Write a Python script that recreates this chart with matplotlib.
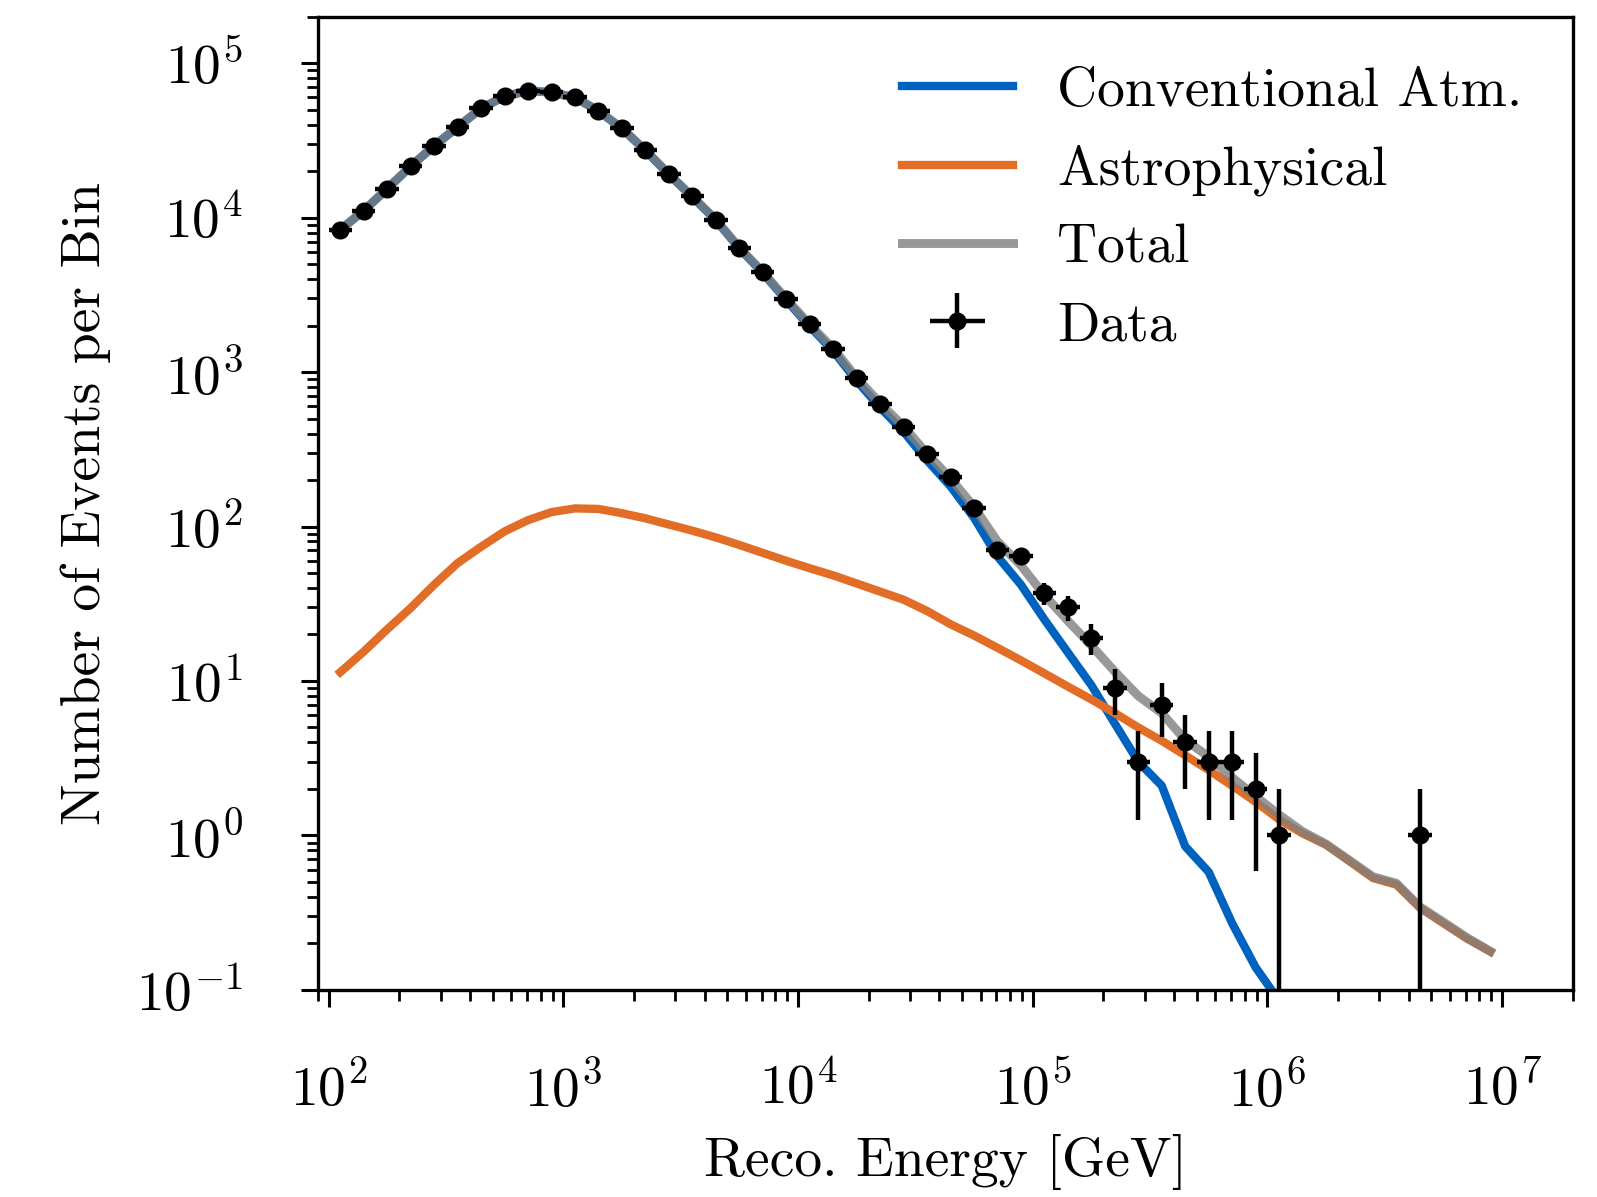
import numpy as np
import matplotlib
matplotlib.use("Agg")
from matplotlib import pyplot as plt
from matplotlib.ticker import LogLocator, FuncFormatter, NullFormatter

plt.rcParams['font.family'] = 'cmr10'
plt.rcParams['mathtext.fontset'] = 'cm'
plt.rcParams['axes.unicode_minus'] = False
plt.rcParams['font.size'] = 20

# 10 bins per decade from 1e2 to 1e7 GeV
bin_edges = np.logspace(2, 7, 51)
bin_centers = np.sqrt(bin_edges[:-1] * bin_edges[1:])

# observed counts per bin (0 = empty bin)
data_counts = [8300, 11100, 15400, 21600, 29100, 38500, 51000, 61200, 66400, 64700,
               60000, 49000, 37800, 27300, 19100, 13700, 9660, 6400, 4450, 2990,
               2040, 1420, 920, 625, 444, 295, 210, 132, 71, 64,
               37, 30, 19, 9, 3, 7, 4, 3, 3, 2,
               1, 0, 0, 0, 0, 0, 1, 0, 0, 0]

# conventional atmospheric expectation (drops below the axis after ~1e6 GeV)
conv_atm = [8340, 11085, 15380, 21470, 29160, 38540, 50930, 60910, 66190, 64680,
            59670, 49070, 37680, 27190, 19000, 13610, 9615, 6324, 4382, 2920,
            1976, 1372, 877, 590, 411, 268, 182, 114, 64, 42,
            25, 15.3, 9.4, 5.3, 3.0, 2.1, 0.85, 0.58, 0.27, 0.14,
            0.085]

# astrophysical expectation
astro = [11.4, 15.5, 21.6, 29.7, 42, 58, 74, 93, 110, 124,
         131, 130, 122, 113, 103, 94, 85, 76, 67.5, 60,
         53.7, 48.3, 42.8, 37.9, 33.6, 28.4, 23.3, 19.7, 16.4, 13.6,
         11.2, 9.2, 7.6, 6.2, 5.0, 4.1, 3.3, 2.65, 2.1, 1.65,
         1.27, 1.03, 0.87, 0.68, 0.53, 0.48, 0.34, 0.27, 0.215, 0.177]

# total expectation
total = [8350, 11100, 15400, 21500, 29200, 38600, 51000, 61000, 66300, 64800,
         59800, 49200, 37800, 27300, 19100, 13700, 9700, 6400, 4450, 2980,
         2030, 1420, 920, 628, 445, 296, 205, 134, 80, 56,
         36, 24.5, 17, 11.5, 8.0, 6.2, 4.15, 3.23, 2.37, 1.79,
         1.36, 1.06, 0.88, 0.69, 0.54, 0.49, 0.345, 0.275, 0.218, 0.178]

fig = plt.figure(figsize=(7.985, 5.985), dpi=200)
ax = fig.add_axes([0.199, 0.173, 0.7858, 0.8131])

ax.plot(bin_centers[:len(conv_atm)], conv_atm, color='#0062bf', lw=3.0,
        label='Conventional Atm.', zorder=2)
ax.plot(bin_centers, astro, color='#e26d26', lw=3.0, label='Astrophysical', zorder=3)
ax.plot(bin_centers, total, color='#7f7f7f', alpha=0.8, lw=3.2, label='Total', zorder=4)

counts = np.array(data_counts, dtype=float)
mask = counts > 0
xc = bin_centers[mask]
xlo = xc - bin_edges[:-1][mask]
xhi = bin_edges[1:][mask] - xc
yerr = np.sqrt(counts[mask])
ax.errorbar(xc, counts[mask], xerr=[xlo, xhi], yerr=[yerr, yerr],
            fmt='o', color='k', ms=5.5, elinewidth=1.6, capsize=0,
            label='Data', zorder=5)

ax.set_xscale('log')
ax.set_yscale('log')
ax.set_xlim(90, 2e7)
ax.set_ylim(1e-1, 2e5)

for axis in (ax.xaxis, ax.yaxis):
    axis.set_major_locator(LogLocator(base=10, numticks=100))
    axis.set_minor_locator(LogLocator(base=10, subs=np.arange(2, 10), numticks=100))
    axis.set_minor_formatter(NullFormatter())
    axis.set_major_formatter(FuncFormatter(lambda v, p: r'$10^{%d}$' % round(np.log10(v))))

ax.tick_params(which='major', direction='out', length=6, width=1.1, labelsize=20)
ax.tick_params(which='minor', direction='out', length=4, width=1.0)
ax.tick_params(axis='y', which='major', pad=21)
ax.tick_params(axis='x', which='major', pad=20)
for s in ax.spines.values():
    s.set_linewidth(1.2)

ax.set_xlabel('Reco. Energy [GeV]', fontsize=20, labelpad=6)
ax.set_ylabel('Number of Events per Bin', fontsize=20, labelpad=9)

ax.legend(loc='upper right', frameon=False, fontsize=20)

fig.savefig('out.png', dpi=200)
